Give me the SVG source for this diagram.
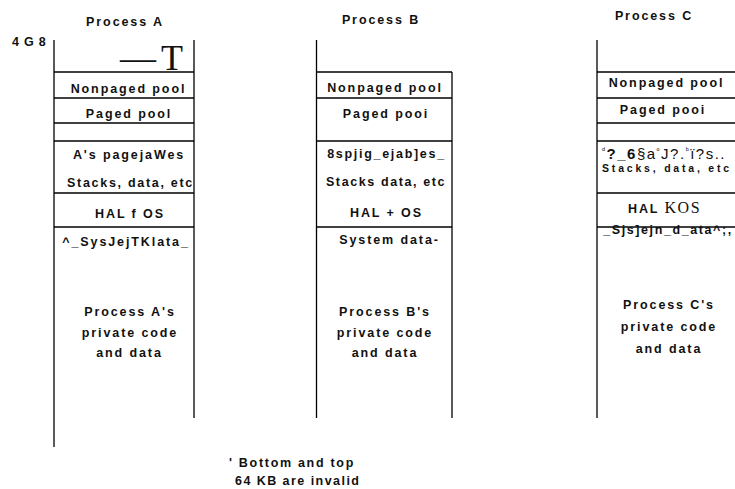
<svg xmlns="http://www.w3.org/2000/svg" width="735" height="489" viewBox="0 0 735 489">
<style>
.l{stroke:#000;stroke-width:1.3;fill:none}
.t{font-family:"Liberation Sans",Arial,sans-serif;font-weight:bold;font-size:12.5px;letter-spacing:1.9px;fill:#111;text-anchor:middle}
.s{font-family:"Liberation Serif","Times New Roman",serif;font-weight:normal;fill:#111}
.r{font-family:"Liberation Sans",Arial,sans-serif;font-weight:normal;fill:#111}
.left{text-anchor:start}
</style>
<rect width="735" height="489" fill="#fff"/>
<g id="connectors">
<line class="l" x1="54" y1="40" x2="54" y2="447"/>
<line class="l" x1="194" y1="40" x2="194" y2="418"/>
<line class="l" x1="316.5" y1="40" x2="316.5" y2="418"/>
<line class="l" x1="452" y1="72" x2="452" y2="418"/>
<line class="l" x1="597" y1="40" x2="597" y2="418"/>
</g>
<g id="processA">
<text class="t" x="125" y="25.5">Process A</text>
<text class="t left" x="12" y="46" style="letter-spacing:0.8px">4 G 8</text>
<text class="s" x="120" y="70" font-size="36" style="letter-spacing:5px">—T</text>
<line class="l" x1="54" y1="72" x2="194" y2="72"/>
<text class="t" x="128.5" y="93">Nonpaged pool</text>
<line class="l" x1="54" y1="98" x2="194" y2="98"/>
<text class="t" x="129" y="118">Paged pool</text>
<line class="l" x1="54" y1="123" x2="194" y2="123"/>
<line class="l" x1="54" y1="141" x2="194" y2="141"/>
<text class="t" x="129" y="159">A's pagejaWes</text>
<text class="t" x="130.5" y="187" style="letter-spacing:1.7px">Stacks, data, etc</text>
<line class="l" x1="54" y1="193" x2="194" y2="193"/>
<text class="t" x="130" y="218">HAL f OS</text>
<line class="l" x1="54" y1="227" x2="194" y2="227"/>
<text class="t" x="126" y="246">^_SysJejTKlata_</text>
<text class="t" x="130" y="316">Process A's</text>
<text class="t" x="130" y="337">private code</text>
<text class="t" x="129.5" y="357">and data</text>
</g>
<g id="processB">
<text class="t" x="381" y="24">Process B</text>
<line class="l" x1="316.5" y1="72" x2="452" y2="72"/>
<text class="t" x="385" y="92">Nonpaged pool</text>
<line class="l" x1="316.5" y1="98" x2="452" y2="98"/>
<text class="t" x="386" y="118">Paged pooi</text>
<line class="l" x1="316.5" y1="141" x2="452" y2="141"/>
<text class="t" x="386.5" y="158" style="letter-spacing:1.7px">8spjig_ejab]es_</text>
<text class="t" x="386" y="186" style="letter-spacing:1.6px">Stacks  data, etc</text>
<text class="t" x="386.5" y="217">HAL + OS</text>
<line class="l" x1="316.5" y1="227" x2="452" y2="227"/>
<text class="t" x="389.5" y="244">System data-</text>
<text class="t" x="385" y="316">Process B's</text>
<text class="t" x="385" y="337">private code</text>
<text class="t" x="385" y="357">and data</text>
</g>
<g id="processC">
<text class="t" x="654" y="20">Process C</text>
<line class="l" x1="597" y1="72" x2="735" y2="72"/>
<text class="t" x="666.5" y="87">Nonpaged pool</text>
<line class="l" x1="597" y1="98" x2="735" y2="98"/>
<text class="t" x="663" y="114">Paged pooi</text>
<line class="l" x1="597" y1="123" x2="735" y2="123"/>
<line class="l" x1="597" y1="141" x2="735" y2="141"/>
<text class="r left" x="602" y="158.5" font-size="15" style="letter-spacing:1.5px"><tspan font-size="8" dy="-6">ᵈ</tspan><tspan dy="6" font-weight="bold">?_6</tspan><tspan>§a</tspan><tspan font-size="8" dy="-6">ᵒ</tspan><tspan dy="6">J?.</tspan><tspan font-size="8" dy="-6">ᵇ</tspan><tspan dy="6">ï?s..</tspan></text>
<text class="t" x="667" y="172" style="font-size:10.5px;letter-spacing:2.8px">Stacks, data, etc</text>
<line class="l" x1="597" y1="193" x2="735" y2="193"/>
<text class="t left" x="628" y="213">HAL <tspan class="s" font-size="16" font-weight="normal" style="letter-spacing:1.5px">KOS</tspan></text>
<line class="l" x1="597" y1="227" x2="735" y2="227"/>
<text class="t" x="668" y="234" style="letter-spacing:1.6px">_Sjs]ejn_d_ata^;,</text>
<text class="t" x="669" y="309">Process C's</text>
<text class="t" x="669" y="331">private code</text>
<text class="t" x="669" y="353">and data</text>
</g>
<g id="note">
<text class="t left" x="229" y="467" style="letter-spacing:1.7px">' Bottom and top</text>
<text class="t left" x="235" y="485" style="letter-spacing:1.45px">64 KB are invalid</text>
</g>
</svg>
